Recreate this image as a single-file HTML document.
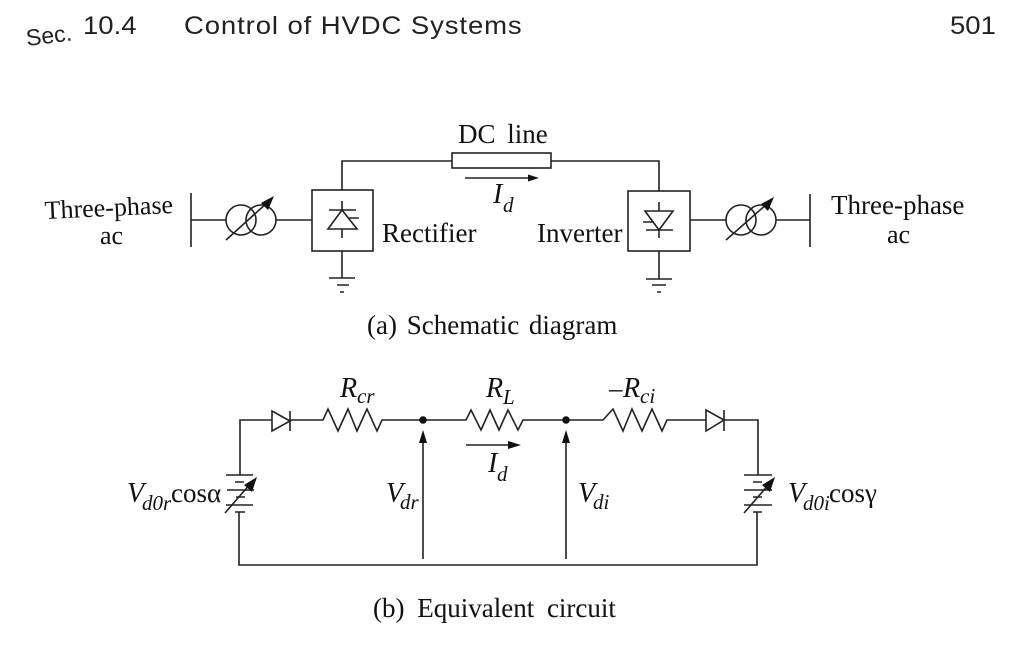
<!DOCTYPE html>
<html><head><meta charset="utf-8"><style>
html,body{margin:0;padding:0;background:#fff}
svg{display:block}
.s{font-family:"Liberation Serif",serif;fill:#111;font-size:27px}
.i{font-style:italic;font-size:28px}
.u{font-family:"Liberation Serif",serif;fill:#111;font-style:italic;font-size:21px}
.h{font-family:"Liberation Sans",sans-serif;fill:#222;font-size:25px}
.l{stroke:#222;stroke-width:1.6;fill:none}
.b{fill:#111;stroke:none}
</style></head><body>
<svg width="1018" height="652" viewBox="0 0 1018 652" xmlns="http://www.w3.org/2000/svg">
<rect width="1018" height="652" fill="#fff"/>
<text class="h" style="font-size:23px" transform="translate(27,46) rotate(-7)">Sec.</text>
<text class="h" transform="translate(83,34) scale(1.1,1)">10.4</text>
<text class="h" transform="translate(184,34) scale(1.1,1)" textLength="307">Control of HVDC Systems</text>
<text class="h" transform="translate(950,34) scale(1.1,1)">501</text>

<!-- schematic -->
<g class="l">
<path d="M191 193V247M191 220H226M276 220H312"/>
<circle cx="241" cy="220" r="15"/><circle cx="261" cy="220" r="15"/>
<path d="M226 240L268 202"/>
<rect x="312" y="190" width="61" height="61"/>
<path d="M342 190V161H452M342 201V210M342 229V238M329 210H356M342 210L328 229H357ZM349 218H359"/>
<path d="M342 251V278M329 278H355M337 285H349M340 292H344"/>
<rect x="452" y="153" width="99" height="15"/>
<path d="M551 161H659V191M465 178H530"/>
<rect x="628" y="191" width="62" height="60"/>
<path d="M659 202V211M659 230V238M645 211H673L659 230ZM646 230H673M643 222H654"/>
<path d="M659 251V279M646 279H672M652 285H666M657 292H661"/>
<path d="M690 220H726M776 220H810M810 194V247"/>
<circle cx="741" cy="220" r="15"/><circle cx="761" cy="220" r="15"/>
<path d="M726 240L768 203"/>
</g>
<path class="b" d="M274 196L268 210L261 203Z"/>
<path class="b" d="M774 197L768 211L761 204Z"/>
<path class="b" d="M539 178L528 174.500V181.500Z"/>

<text class="s" style="font-size:26px" transform="translate(45,219) rotate(-2.700)">Three-phase</text>
<text class="s" style="font-size:26px" x="100" y="244">ac</text>
<text class="s" x="382" y="242">Rectifier</text>
<text class="s" x="537" y="242">Inverter</text>
<text class="s" x="831" y="214">Three-phase</text>
<text class="s" style="font-size:26px" x="887" y="243">ac</text>
<text class="s" style="word-spacing:5px" x="458" y="143">DC line</text>
<text class="s i" x="493" y="203">I</text>
<text class="u" x="503" y="212">d</text>
<text class="s" style="word-spacing:3px" x="367" y="334">(a) Schematic diagram</text>

<!-- equivalent -->
<g class="l">
<path d="M240 475V420H272M290 420H323L328 409L338 431L348 409L357 431L367 409L377 431L382 420H423"/>
<path d="M272 411V431L290 421ZM290 411V431"/>
<path d="M423 420H466L471 410L481 430L490 410L499 430L508 410L518 430L523 420H566"/>
<path d="M566 420H603L613 409L623 431L632 409L642 431L652 409L662 431L667 420H706"/>
<path d="M706 410V431L724 420ZM724 410V431M724 420H758V475"/>
<path d="M226 475H253M235 482H244M227 490H254M236 497H245M226 505H253M235 512H245"/>
<path d="M239 512V565H757V512"/>
<path d="M225 513L251 483"/>
<path d="M744 475H772M753 482H762M744 490H772M753 497H762M744 505H772M753 512H762"/>
<path d="M744 513L770 483"/>
<path d="M423 559V441M566 559V441M466 445H512"/>
</g>
<circle class="b" cx="423" cy="420" r="3.800"/>
<circle class="b" cx="566" cy="420" r="3.800"/>
<path class="b" d="M423 430L419 443H427Z"/>
<path class="b" d="M566 430L562 443H570Z"/>
<path class="b" d="M257 477L252 492L244 485Z"/>
<path class="b" d="M775 477L770 492L762 485Z"/>
<path class="b" d="M521 445L508 441V449Z"/>

<text class="s i" x="340" y="397">R</text>
<text class="u" x="357" y="403">cr</text>
<text class="s i" x="486" y="397">R</text>
<text class="u" x="503" y="404">L</text>
<text class="s" x="609" y="397">–</text>
<text class="s i" x="623" y="397">R</text>
<text class="u" x="640" y="403">ci</text>
<text class="s i" x="488" y="472">I</text>
<text class="u" x="497" y="481">d</text>
<text class="s i" x="386" y="502">V</text>
<text class="u" x="400" y="509">dr</text>
<text class="s i" x="578" y="502">V</text>
<text class="u" x="593" y="509">di</text>
<text class="s i" x="127" y="502">V</text>
<text class="u" x="142" y="510">d0r</text>
<text class="s" x="171" y="502">cosα</text>
<text class="s i" x="788" y="502">V</text>
<text class="u" x="803" y="510">d0i</text>
<text class="s" x="829" y="502">cosγ</text>
<text class="s" style="word-spacing:6px" x="373" y="617">(b) Equivalent circuit</text>
</svg>
</body></html>
